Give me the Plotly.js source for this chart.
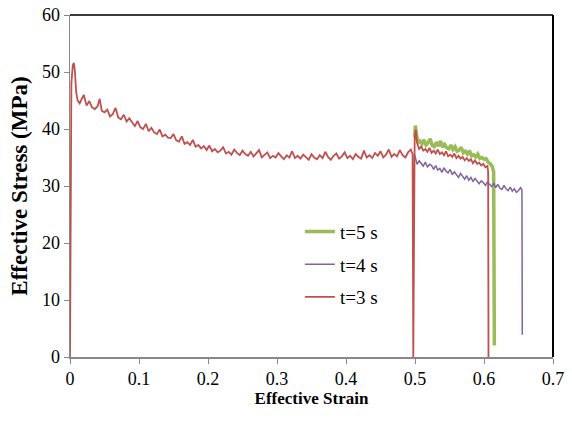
<!DOCTYPE html>
<html>
<head>
<meta charset="utf-8">
<script src="https://cdn.plot.ly/plotly-3.0.1.min.js"></script>
<style>html,body{margin:0;padding:0;background:#fff;}#chart{width:572px;height:429px;}</style>
</head>
<body>
<div id="chart"></div>
<script>
// First loading stage (t=3 s curve drawn on top; all tests overlap here)
var seg1Strain = [0,0.002,0.004,0.0055,0.007,0.009,0.011,0.014,0.017,0.020,0.024,0.028,0.032,0.036,0.040,0.043,0.046,0.050,0.054,0.058,0.062,0.066,0.070,0.074,0.078,0.082,0.086,0.090,0.094,0.098,0.102,0.106,0.110,0.114,0.118,0.122,0.126,0.130,0.134,0.138,0.142,0.146,0.150,0.154,0.158,0.162,0.166,0.170,0.174,0.178,0.182,0.186,0.190,0.194,0.198,0.202,0.206,0.210,0.214,0.218,0.222,0.226,0.230,0.234,0.238,0.242,0.246,0.250,0.254,0.258,0.262,0.266,0.270,0.274,0.278,0.282,0.286,0.290,0.294,0.298,0.302,0.306,0.310,0.314,0.318,0.322,0.326,0.330,0.334,0.338,0.342,0.346,0.350,0.354,0.358,0.362,0.366,0.370,0.374,0.378,0.382,0.386,0.390,0.394,0.398,0.402,0.406,0.410,0.414,0.418,0.422,0.426,0.430,0.434,0.438,0.442,0.446,0.450,0.454,0.458,0.462,0.466,0.470,0.474,0.478,0.482,0.486,0.490,0.494,0.4965,0.4975];
var seg1Stress = [0,48.0,51.2,51.6,50.3,46.4,45.0,44.5,45.3,46.0,44.1,44.9,43.8,43.5,44.0,45.3,43.2,42.9,43.4,42.2,42.6,43.7,42.0,41.7,42.5,41.3,41.9,41.2,40.5,41.4,40.3,40.0,40.9,39.6,40.2,39.4,39.1,39.9,38.7,39.0,38.5,38.4,39.1,38.0,37.8,38.7,37.4,37.7,37.2,38.1,36.9,37.2,36.6,37.0,36.3,37.1,36.1,36.5,35.9,36.2,36.8,35.7,36.0,35.5,36.4,35.8,35.4,36.2,35.6,35.3,36.0,35.2,35.7,36.3,35.0,35.4,35.9,34.9,35.3,35.0,35.8,35.2,34.7,35.4,35.0,36.1,34.9,35.3,34.8,35.5,35.1,34.6,35.6,35.0,34.7,35.4,34.9,36.0,35.1,34.6,35.3,35.7,34.8,35.2,35.9,34.9,35.3,34.7,35.6,35.1,34.8,36.2,35.0,35.4,34.9,35.8,35.3,36.1,35.0,35.5,36.4,35.1,35.6,35.2,36.3,35.4,35.0,35.9,36.4,35.6,0];

// Second stage, t=5 s
var t5Strain = [0.4995,0.5005,0.502,0.504,0.507,0.510,0.513,0.516,0.519,0.522,0.525,0.528,0.531,0.534,0.537,0.540,0.543,0.546,0.549,0.552,0.555,0.558,0.561,0.564,0.567,0.570,0.573,0.576,0.579,0.582,0.585,0.588,0.591,0.594,0.597,0.600,0.603,0.606,0.609,0.612,0.614,0.615];
var t5Stress = [38.5,40.6,39.2,37.6,37.9,37.4,38.1,37.2,37.6,38.3,37.1,36.9,37.7,37.0,37.9,36.8,37.3,36.7,36.5,37.2,36.4,36.9,36.1,36.3,36.8,35.8,36.1,35.6,36.2,35.3,35.5,35.1,35.6,34.8,35.0,34.7,34.8,34.2,33.9,33.4,32.5,2.0];

// Second stage, t=4 s
var t4Strain = [0.4995,0.501,0.503,0.506,0.509,0.512,0.515,0.518,0.521,0.524,0.527,0.530,0.533,0.536,0.539,0.542,0.545,0.548,0.551,0.554,0.557,0.560,0.563,0.566,0.569,0.572,0.575,0.578,0.581,0.584,0.587,0.590,0.593,0.596,0.599,0.602,0.605,0.608,0.611,0.614,0.617,0.620,0.623,0.626,0.629,0.632,0.635,0.638,0.641,0.644,0.647,0.650,0.653,0.655,0.6555];
var t4Stress = [35.5,34.9,33.8,34.4,33.9,33.5,34.2,33.3,33.8,33.6,32.9,33.6,32.8,33.1,32.4,33.2,32.6,32.3,32.9,32.0,32.5,31.9,31.5,32.2,31.6,31.2,31.8,31.0,31.5,30.8,31.3,30.9,30.4,30.9,30.6,30.1,30.7,30.3,29.9,30.5,29.7,30.3,29.6,29.4,30.1,29.5,29.2,29.8,29.1,29.5,28.9,29.2,29.7,29.3,3.9];

// Second stage, t=3 s
var t3Strain = [0.4995,0.501,0.503,0.506,0.509,0.512,0.515,0.518,0.521,0.524,0.527,0.530,0.533,0.536,0.539,0.542,0.545,0.548,0.551,0.554,0.557,0.560,0.563,0.566,0.569,0.572,0.575,0.578,0.581,0.584,0.587,0.590,0.593,0.596,0.599,0.602,0.605,0.606,0.6065];
var t3Stress = [38.2,39.9,37.6,36.5,36.9,36.2,36.5,36.0,36.7,35.8,36.2,35.7,36.4,35.6,35.9,35.4,36.1,35.2,35.5,35.1,35.7,34.9,35.3,34.8,35.1,34.5,34.9,34.4,34.7,34.0,34.5,33.9,34.1,33.6,33.9,33.3,33.5,32.5,0];

var seriesNames = ['t=5 s','t=4 s','t=3 s'];
var xTicks = [0,0.1,0.2,0.3,0.4,0.5,0.6,0.7];
var yTicks = [0,10,20,30,40,50,60];

var serif = 'Liberation Serif';

var traces = [
  {x: t5Strain, y: t5Stress, name: seriesNames[0], legendgroup:'a',
   mode:'lines', line:{color:'#9BBB59', width:3.5}},
  {x: t4Strain, y: t4Stress, name: seriesNames[1], legendgroup:'b',
   mode:'lines', line:{color:'#8064A2', width:1.5}},
  {x: seg1Strain.concat(t3Strain), y: seg1Stress.concat(t3Stress), name: seriesNames[2], legendgroup:'c',
   mode:'lines', line:{color:'#C0504D', width:1.8}}
];

var layout = {
  width:572, height:429,
  margin:{l:70, r:19, t:15, b:72},
  paper_bgcolor:'#fff', plot_bgcolor:'#fff',
  font:{family:serif, color:'#000'},
  showlegend:true,
  legend:{x:0.476, y:0.422, xanchor:'left', yanchor:'top', bgcolor:'rgba(0,0,0,0)',
          font:{family:serif, size:19, color:'#000'}, tracegroupgap:5, traceorder:'grouped'},
  xaxis:{range:[0,0.7], tickvals:xTicks, ticktext:xTicks.map(String), ticks:'outside', ticklen:5,
         tickcolor:'#888', showline:true, linecolor:'#888', linewidth:1.5, showgrid:false, zeroline:false,
         tickfont:{family:serif, size:18, color:'#000'},
         title:{text:'<b>Effective Strain</b>', font:{family:serif, size:17, color:'#000'}, standoff:3}},
  yaxis:{range:[0,60], tickvals:yTicks, ticktext:yTicks.map(String), ticks:'outside', ticklen:5,
         tickcolor:'#888', showline:true, linecolor:'#888', linewidth:1.5, showgrid:false, zeroline:false,
         tickfont:{family:serif, size:18, color:'#000'},
         title:{text:'<b>Effective Stress (MPa)</b>', font:{family:serif, size:23, color:'#000'}, standoff:8}},
  shapes:[
    {type:'line', xref:'paper', yref:'paper', x0:0, x1:1, y0:1, y1:1, line:{color:'#3a3a3a', width:2}},
    {type:'line', xref:'paper', yref:'paper', x0:1, x1:1, y0:0, y1:1, line:{color:'#000', width:2}}
  ]
};

Plotly.newPlot('chart', traces, layout, {displayModeBar:false, staticPlot:true});
</script>
</body>
</html>
